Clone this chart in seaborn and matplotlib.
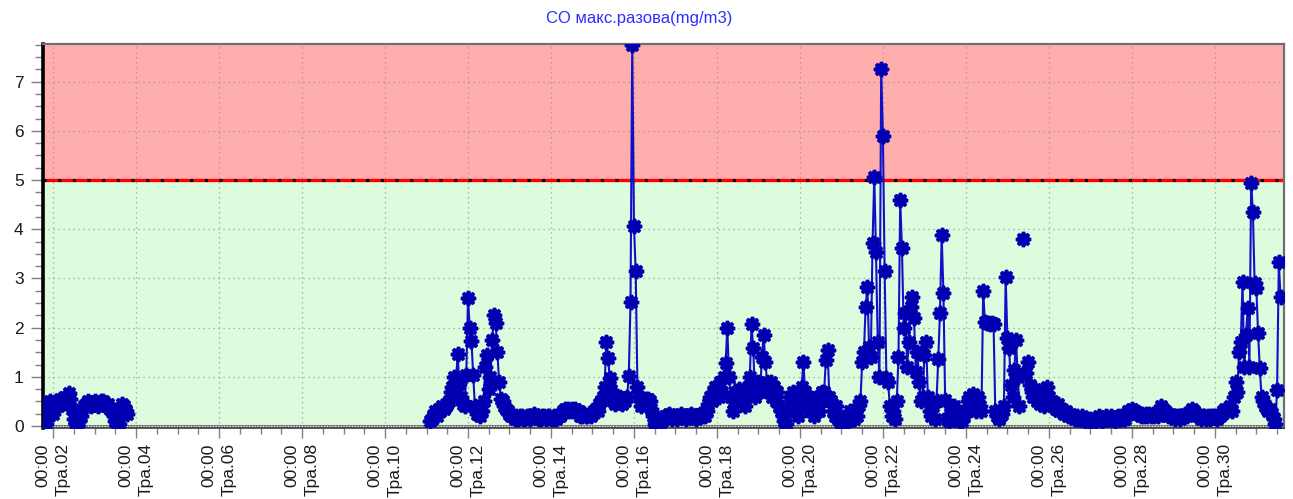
import numpy as np
import pandas as pd
import matplotlib
matplotlib.use("Agg")
import matplotlib.pyplot as plt
import matplotlib.dates as mdates
from matplotlib.ticker import MultipleLocator
import seaborn as sns

nan = np.nan

# ---- data: CO max one-off concentration (mg/m3), hourly readings ----
# segment 1 starts 2024-05-01 18:00
may01_03 = [0.45, 0.25, 0.05, 0.3, 0.5, 0.35, 0.25, 0.45, 0.5, 0.4, 0.55, 0.45, 0.5, 0.6, 0.5, 0.67, 0.55, 0.35, 0.15,
            0.05, 0.0, 0.1,
            0.2, 0.3, 0.4, 0.45, 0.5, 0.45, 0.4, 0.45, 0.5, 0.45, 0.4, 0.45, 0.5, 0.5, 0.45, 0.4, 0.45, 0.35, 0.3,
            0.2, 0.1, 0.02,
            0.05, 0.3, 0.45, 0.4, 0.3, 0.25]
# segment 2 starts 2024-05-11 02:00
may11 = [0.1, 0.15, 0.2, 0.3, 0.2, 0.35, 0.3, 0.4, 0.35, 0.4, 0.45, 0.5, 0.7, 0.8, 1.0, 0.9, 1.46, 0.85, 0.6, 0.45, 0.4, 1.04]
may12 = [2.6, 2.0, 1.73, 1.04, 0.4, 0.25, 0.3, 0.2, 0.3, 0.5, 1.2, 1.45, 0.75, 1.0, 1.75, 2.26, 2.1, 1.5, 0.9, 0.55, 0.5, 0.4, 0.35, 0.3]
may13 = [0.25, 0.2, 0.2, 0.15, 0.2, 0.15, 0.2, 0.2, 0.15, 0.15, 0.2, 0.2, 0.15, 0.2, 0.25, 0.2, 0.2, 0.15, 0.15, 0.2, 0.2, 0.15, 0.2, 0.2]
may14 = [0.15, 0.15, 0.2, 0.15, 0.2, 0.2, 0.25, 0.3, 0.35, 0.3, 0.35, 0.3, 0.35, 0.3, 0.35, 0.3, 0.3, 0.2, 0.2, 0.25, 0.2, 0.2, 0.25, 0.2]
may15 = [0.25, 0.3, 0.35, 0.3, 0.45, 0.5, 0.6, 0.8, 1.71, 1.38, 0.98, 0.73, 0.5, 0.45, 0.55, 0.5, 0.6, 0.45, 0.55, 0.5, 0.6, 1.02, 2.52, 7.75]
may16 = [4.07, 3.15, 0.8, 0.6, 0.4, 0.5, 0.45, 0.55, 0.55, 0.5, 0.35, 0.2, 0.05, 0.0, 0.0, 0.05, 0.1, 0.15, 0.2, 0.2, 0.25, 0.2, 0.15, 0.2]
may17 = [0.2, 0.15, 0.2, 0.25, 0.2, 0.2, 0.15, 0.2, 0.2, 0.25, 0.2, 0.2, 0.15, 0.2, 0.25, 0.25, 0.2, 0.2, 0.3, 0.45, 0.6, 0.5, 0.7, 0.8]
may18 = [0.8, 0.6, 0.9, 0.7, 1.0, 1.29, 1.99, 1.0, 0.6, 0.3, 0.5, 0.7, 0.6, 0.75, 0.5, 0.7, 0.4, 0.6, 0.8, 0.99, 2.07, 1.58, 0.6, 0.7]
may19 = [0.9, 0.7, 1.41, 1.85, 1.3, 0.9, 0.7, 0.9, 0.6, 0.8, 0.5, 0.7, 0.4, 0.3, 0.2, 0.1, 0.05, 0.3, 0.6, 0.4, 0.7, 0.5, 0.3, 0.2]
may20 = [0.5, 0.8, 1.3, 0.7, 0.4, 0.6, 0.3, 0.5, 0.2, 0.4, 0.6, 0.3, 0.5, 0.7, 0.7, 1.34, 1.54, 0.6, 0.5, 0.3, 0.2, 0.4, 0.15, 0.1]
may21 = [0.05, 0.0, 0.1, 0.2, 0.1, 0.3, 0.2, 0.15, 0.3, 0.2, 0.43, 0.5, 1.3, 1.5, 2.42, 2.83, 1.6, 1.4, 3.72, 5.06, 3.54, 1.7, 1.0, 7.26]
may22 = [5.89, 3.15, 0.98, 0.9, 0.4, 0.2, 0.3, 0.15, 0.5, 1.4, 4.59, 3.62, 2.0, 2.3, 1.2, 1.7, 2.42, 2.62, 2.2, 1.1, 1.5, 0.9, 0.5, 0.6]
may23 = [1.44, 1.71, 0.6, 0.3, 0.2, 0.4, 0.15, 0.5, 1.36, 2.3, 3.88, 2.71, 0.53, 0.15, 0.1, 0.25, 0.35, 0.4, 0.3, 0.2, 0.1, 0.15, 0.1, 0.2]
may24 = [0.3, 0.5, 0.6, 0.4, 0.65, 0.5, 0.3, 0.6, 0.4, 0.3, 2.74, 2.12, 2.1, 2.1, 2.08, 2.1, 2.08, 0.3, 0.2, 0.15, 0.2, 0.25, 0.4, 3.03]
may25 = [1.79, 1.59, 0.83, 0.6, 1.14, 1.75, 1.0, 0.4, nan, 3.8, nan, 1.08, 1.3, 0.83, 0.7, 0.6, 0.75, 0.5, 0.6, 0.45, 0.55, 0.4, 0.5, 0.8]
may26 = [0.6, 0.45, 0.5, 0.4, 0.35, 0.45, 0.3, 0.35, 0.3, 0.25, 0.3, 0.2, 0.25, 0.2, 0.2, 0.15, 0.2, 0.15, 0.15, 0.2, 0.15, 0.1, 0.15, 0.1]
may27 = [0.15, 0.1, 0.15, 0.1, 0.15, 0.2, 0.15, 0.1, 0.15, 0.2, 0.15, 0.15, 0.2, 0.15, 0.1, 0.15, 0.2, 0.15, 0.2, 0.15, 0.15, 0.25, 0.3, 0.3]
may28 = [0.35, 0.3, 0.3, 0.25, 0.25, 0.2, 0.25, 0.2, 0.25, 0.2, 0.25, 0.2, 0.25, 0.2, 0.25, 0.2, 0.3, 0.4, 0.35, 0.3, 0.25, 0.2, 0.25, 0.2]
may29 = [0.2, 0.15, 0.2, 0.2, 0.15, 0.2, 0.2, 0.25, 0.2, 0.25, 0.3, 0.35, 0.3, 0.25, 0.2, 0.2, 0.15, 0.2, 0.2, 0.15, 0.2, 0.15, 0.2, 0.2]
may30 = [0.2, 0.15, 0.2, 0.2, 0.25, 0.3, 0.35, 0.3, 0.35, 0.4, 0.3, 0.6, 0.9, 0.7, 1.5, 1.7, 2.93, 1.2, 1.85, 2.4, 1.2, 4.94, 4.35, 2.9]
may31 = [2.8, 1.89, 1.18, 0.6, 0.5, 0.4, 0.35, 0.3, 0.35, 0.25, 0.15, 0.05, 0.73, 3.33, 2.62]

limit_value = 5.0
title = "CO макс.разова(mg/m3)"

# ---- build table ----
seg2 = (may11 + may12 + may13 + may14 + may15 + may16 + may17 + may18 + may19 + may20 + may21
        + may22 + may23 + may24 + may25 + may26 + may27 + may28 + may29 + may30 + may31)
t1 = pd.date_range("2024-05-01 18:00", periods=len(may01_03), freq="h")
t2 = pd.date_range("2024-05-11 02:00", periods=len(seg2), freq="h")
df = pd.DataFrame({"time": list(t1) + list(t2), "co": may01_03 + seg2})
df["seg"] = df["co"].isna().cumsum() + (df["time"] >= pd.Timestamp("2024-05-11")).astype(int) * 100
df = df.dropna().reset_index(drop=True)

sns.set_style("ticks")
plt.rcParams["font.family"] = ["Liberation Sans", "DejaVu Sans"]

W, H = 1293, 499
fig = plt.figure(figsize=(W / 100, H / 100), dpi=100)
fig.patch.set_facecolor("white")
ax = fig.add_axes([43 / W, 1 - 428 / H, 1241 / W, 384 / H])
ax.set_facecolor("#DDFBDD")
ax.axhspan(limit_value, 20, color="#FFAEAE", zorder=0, lw=0)

ax.set_ylim(-0.04, 7.765)
ax.set_xlim(pd.Timestamp("2024-05-01 18:10"), pd.Timestamp("2024-05-31 16:00"))

ax.set_axisbelow(True)
ax.grid(which="major", color="#8c8c8c", ls=(0, (1, 3)), lw=0.9, alpha=0.8)

ax.axhline(limit_value, color="#FF0000", lw=2.4, zorder=2)
ax.axhline(limit_value, color="black", lw=2.2, ls=(0, (1, 3.8)), zorder=2.1)
ax.axhline(0, color="#7a7a7a", lw=2.2, zorder=2)
ax.axhline(0, color="white", lw=0.8, ls=(0, (1, 1.5)), zorder=2.1)

sns.lineplot(data=df, x="time", y="co", units="seg", estimator=None, ax=ax,
             color="#1010C8", lw=1.5, marker=(8, 1, 0), markersize=10.5,
             markerfacecolor="#0000B0", markeredgecolor="#0000B0",
             markeredgewidth=2.4, zorder=3, legend=False)

ax.set_xlabel("")
ax.set_ylabel("")

ax.yaxis.set_major_locator(MultipleLocator(1))
ax.yaxis.set_minor_locator(MultipleLocator(0.25))
ax.xaxis.set_major_locator(mdates.DayLocator(bymonthday=range(2, 31, 2)))
ax.xaxis.set_minor_locator(mdates.HourLocator(byhour=[0, 12]))
ax.xaxis.set_major_formatter(mdates.DateFormatter("%H:%M\nТра.%d"))

ax.tick_params(axis="y", which="major", length=9, width=1, color="#808080",
               labelsize=12.5, labelcolor="#1a1a1a", pad=5)
ax.tick_params(axis="y", which="minor", length=6, width=1, color="#808080")
ax.tick_params(axis="x", which="major", length=7, width=1, color="#808080",
               labelsize=12.5, labelcolor="#1a1a1a", pad=4)
ax.tick_params(axis="x", which="minor", length=4, width=1, color="#808080")

for side, c, w in [("left", "black", 2.6), ("top", "#707070", 1.6),
                   ("right", "#707070", 1.6), ("bottom", "#404040", 1.2)]:
    ax.spines[side].set_color(c)
    ax.spines[side].set_linewidth(w)

fig.canvas.draw()
for lbl in ax.get_xticklabels():
    lbl.set_rotation(90)
    lbl.set_horizontalalignment("center")
    lbl.set_verticalalignment("top")
    lbl.set_multialignment("right")
    lbl.set_linespacing(1.45)

fig.text(639.5 / W, 1 - 18 / H, title, color="#2E2EFF", fontsize=12,
         ha="center", va="center")

fig.savefig("out.png", dpi=100)
